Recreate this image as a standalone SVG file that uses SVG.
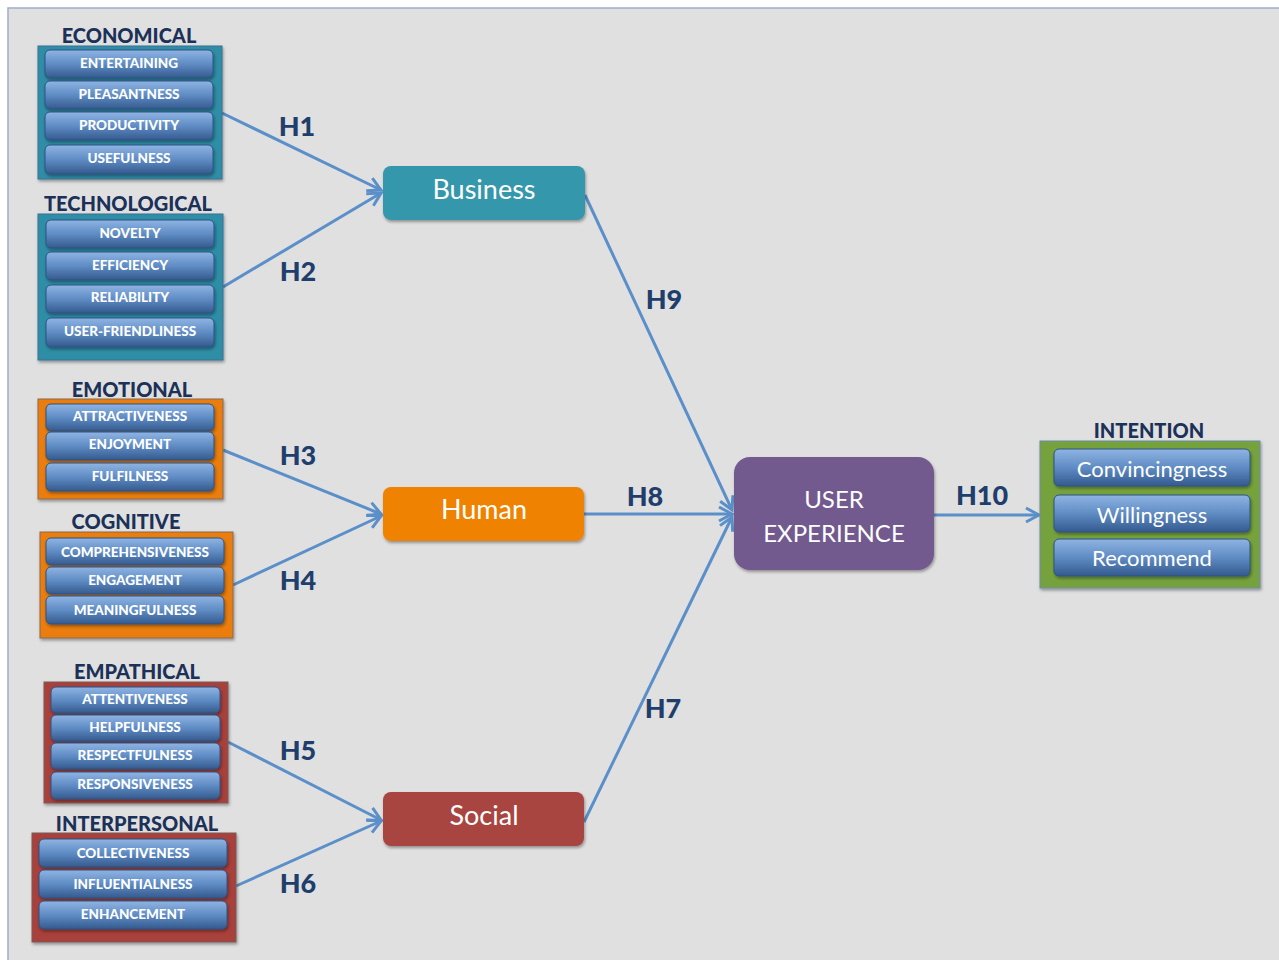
<svg xmlns="http://www.w3.org/2000/svg" width="1279" height="960" viewBox="0 0 1279 960">
<style>
.title{font-family:Lato,"Liberation Sans",sans-serif;font-weight:900;font-size:20px;fill:#1b3158;text-anchor:middle}
.btn{fill:url(#gb);stroke:#2d5283;stroke-width:1}
.bt{font-family:Lato,"Liberation Sans",sans-serif;font-weight:900;font-size:13.5px;fill:#fff;text-anchor:middle}
.bt2{font-family:Lato,"Liberation Sans",sans-serif;font-size:22px;fill:#fff;text-anchor:middle}
.node{font-family:Lato,"Open Sans","Liberation Sans",sans-serif;font-size:27px;fill:#fff;text-anchor:middle}
.ux{font-family:Lato,"Open Sans","Liberation Sans",sans-serif;font-size:24px;fill:#fff;text-anchor:middle}
.h{font-family:Lato,"Liberation Sans",sans-serif;font-weight:900;font-size:27px;fill:#1f3e6b;text-anchor:middle}
.con{stroke:#5b8fc9;stroke-width:3;fill:none;marker-end:url(#arr)}
</style>
<defs>
<linearGradient id="gb" x1="0" y1="0" x2="0" y2="1">
<stop offset="0" stop-color="#8fb4e3"/>
<stop offset="0.5" stop-color="#5f8cc4"/>
<stop offset="1" stop-color="#345a8e"/>
</linearGradient>
<filter id="sh" x="-10%" y="-10%" width="130%" height="140%">
<feDropShadow dx="1" dy="2" stdDeviation="1.5" flood-color="#000" flood-opacity="0.35"/>
</filter>
<marker id="arr" markerUnits="userSpaceOnUse" markerWidth="20" markerHeight="20" viewBox="0 0 20 20" refX="17" refY="10" orient="auto">
<path d="M4,3 L17,10 L4,17" fill="none" stroke="#5b8fc9" stroke-width="3"/>
</marker>
</defs>
<rect x="0" y="0" width="1279" height="960" fill="#ffffff"/>
<rect x="8" y="8" width="1272" height="960" fill="#e0e0e0" stroke="#9eaccb" stroke-width="1.5"/>

<g id="connectors">
<line class="con" x1="222" y1="113" x2="381" y2="190"/>
<line class="con" x1="223" y1="287" x2="381" y2="193"/>
<line class="con" x1="223" y1="450" x2="381" y2="514"/>
<line class="con" x1="233" y1="585" x2="381" y2="516"/>
<line class="con" x1="228" y1="742" x2="381" y2="820"/>
<line class="con" x1="236" y1="886" x2="381" y2="821"/>
<line class="con" x1="585" y1="195" x2="732" y2="510"/>
<line class="con" x1="584" y1="514" x2="732" y2="514"/>
<line class="con" x1="584" y1="822" x2="732" y2="517"/>
<line class="con" x1="934" y1="515" x2="1039" y2="515"/>
<text class="h" x="297" y="136">H1</text>
<text class="h" x="298" y="281">H2</text>
<text class="h" x="298" y="465">H3</text>
<text class="h" x="298" y="590">H4</text>
<text class="h" x="298" y="760">H5</text>
<text class="h" x="298" y="893">H6</text>
<text class="h" x="663" y="718">H7</text>
<text class="h" x="645" y="506">H8</text>
<text class="h" x="664" y="309">H9</text>
<text class="h" x="982" y="505">H10</text>
</g>

<g id="economical">
<text class="title" x="129" y="43">ECONOMICAL</text>
<rect x="38" y="46" width="184" height="133" fill="#2f8ea6" stroke="#3a6e94" filter="url(#sh)"/>
<rect class="btn" x="45" y="50" width="168" height="28" rx="5" filter="url(#sh)"/><text class="bt" x="129" y="68">ENTERTAINING</text>
<rect class="btn" x="45" y="81" width="168" height="28" rx="5" filter="url(#sh)"/><text class="bt" x="129" y="99">PLEASANTNESS</text>
<rect class="btn" x="45" y="112" width="168" height="28" rx="5" filter="url(#sh)"/><text class="bt" x="129" y="130">PRODUCTIVITY</text>
<rect class="btn" x="45" y="145" width="168" height="29" rx="5" filter="url(#sh)"/><text class="bt" x="129" y="163">USEFULNESS</text>
</g>

<g id="technological">
<text class="title" x="128" y="211">TECHNOLOGICAL</text>
<rect x="38" y="214" width="185" height="146" fill="#2f8ea6" stroke="#3a6e94" filter="url(#sh)"/>
<rect class="btn" x="46" y="220" width="168" height="28" rx="5" filter="url(#sh)"/><text class="bt" x="130" y="238">NOVELTY</text>
<rect class="btn" x="46" y="252" width="168" height="28" rx="5" filter="url(#sh)"/><text class="bt" x="130" y="270">EFFICIENCY</text>
<rect class="btn" x="46" y="285" width="168" height="28" rx="5" filter="url(#sh)"/><text class="bt" x="130" y="302">RELIABILITY</text>
<rect class="btn" x="46" y="318" width="168" height="29" rx="5" filter="url(#sh)"/><text class="bt" x="130" y="336">USER-FRIENDLINESS</text>
</g>

<g id="emotional">
<text class="title" x="132" y="397">EMOTIONAL</text>
<rect x="38" y="399" width="185" height="100" fill="#ea7d0d" stroke="#8a6a50" filter="url(#sh)"/>
<rect class="btn" x="46" y="404" width="168" height="27" rx="5" filter="url(#sh)"/><text class="bt" x="130" y="421">ATTRACTIVENESS</text>
<rect class="btn" x="46" y="432" width="168" height="28" rx="5" filter="url(#sh)"/><text class="bt" x="130" y="449">ENJOYMENT</text>
<rect class="btn" x="46" y="463" width="168" height="28" rx="5" filter="url(#sh)"/><text class="bt" x="130" y="481">FULFILNESS</text>
</g>

<g id="cognitive">
<text class="title" x="126" y="529">COGNITIVE</text>
<rect x="40" y="532" width="193" height="106" fill="#ea7d0d" stroke="#8a6a50" filter="url(#sh)"/>
<rect class="btn" x="46" y="538" width="178" height="27" rx="5" filter="url(#sh)"/><text class="bt" x="135" y="557">COMPREHENSIVENESS</text>
<rect class="btn" x="46" y="567" width="178" height="27" rx="5" filter="url(#sh)"/><text class="bt" x="135" y="585">ENGAGEMENT</text>
<rect class="btn" x="46" y="596" width="178" height="28" rx="5" filter="url(#sh)"/><text class="bt" x="135" y="615">MEANINGFULNESS</text>
</g>

<g id="empathical">
<text class="title" x="137" y="679">EMPATHICAL</text>
<rect x="44" y="682" width="184" height="121" fill="#a8403a" stroke="#7a5a5a" filter="url(#sh)"/>
<rect class="btn" x="51" y="687" width="169" height="26" rx="5" filter="url(#sh)"/><text class="bt" x="135" y="704">ATTENTIVENESS</text>
<rect class="btn" x="51" y="715" width="169" height="26" rx="5" filter="url(#sh)"/><text class="bt" x="135" y="732">HELPFULNESS</text>
<rect class="btn" x="51" y="743" width="169" height="26" rx="5" filter="url(#sh)"/><text class="bt" x="135" y="760">RESPECTFULNESS</text>
<rect class="btn" x="51" y="772" width="169" height="27" rx="5" filter="url(#sh)"/><text class="bt" x="135" y="789">RESPONSIVENESS</text>
</g>

<g id="interpersonal">
<text class="title" x="137" y="831">INTERPERSONAL</text>
<rect x="32" y="833" width="204" height="109" fill="#a8403a" stroke="#7a5a5a" filter="url(#sh)"/>
<rect class="btn" x="39" y="839" width="188" height="28" rx="5" filter="url(#sh)"/><text class="bt" x="133" y="858">COLLECTIVENESS</text>
<rect class="btn" x="39" y="870" width="188" height="28" rx="5" filter="url(#sh)"/><text class="bt" x="133" y="889">INFLUENTIALNESS</text>
<rect class="btn" x="39" y="901" width="188" height="28" rx="5" filter="url(#sh)"/><text class="bt" x="133" y="919">ENHANCEMENT</text>
</g>

<g id="business">
<rect x="383" y="166" width="202" height="54" rx="8" fill="#3497ab" filter="url(#sh)"/>
<text class="node" x="484" y="199">Business</text>
</g>
<g id="human">
<rect x="383" y="487" width="201" height="54" rx="8" fill="#ef8200" filter="url(#sh)"/>
<text class="node" x="484" y="519">Human</text>
</g>
<g id="social">
<rect x="383" y="792" width="201" height="54" rx="8" fill="#a8443f" filter="url(#sh)"/>
<text class="node" x="484" y="825">Social</text>
</g>
<g id="user-experience">
<rect x="734" y="457" width="200" height="113" rx="16" fill="#725a8e" filter="url(#sh)"/>
<text class="ux" x="834" y="508">USER</text>
<text class="ux" x="834" y="542">EXPERIENCE</text>
</g>
<g id="intention">
<text class="title" x="1149" y="438">INTENTION</text>
<rect x="1040" y="441" width="220" height="147" fill="#76a23c" stroke="#6d8aa8" filter="url(#sh)"/>
<rect class="btn" x="1054" y="449" width="196" height="37" rx="5" filter="url(#sh)"/><text class="bt2" x="1152" y="477">Convincingness</text>
<rect class="btn" x="1054" y="495" width="196" height="37" rx="5" filter="url(#sh)"/><text class="bt2" x="1152" y="523">Willingness</text>
<rect class="btn" x="1054" y="539" width="196" height="37" rx="5" filter="url(#sh)"/><text class="bt2" x="1152" y="566">Recommend</text>
</g>
</svg>
